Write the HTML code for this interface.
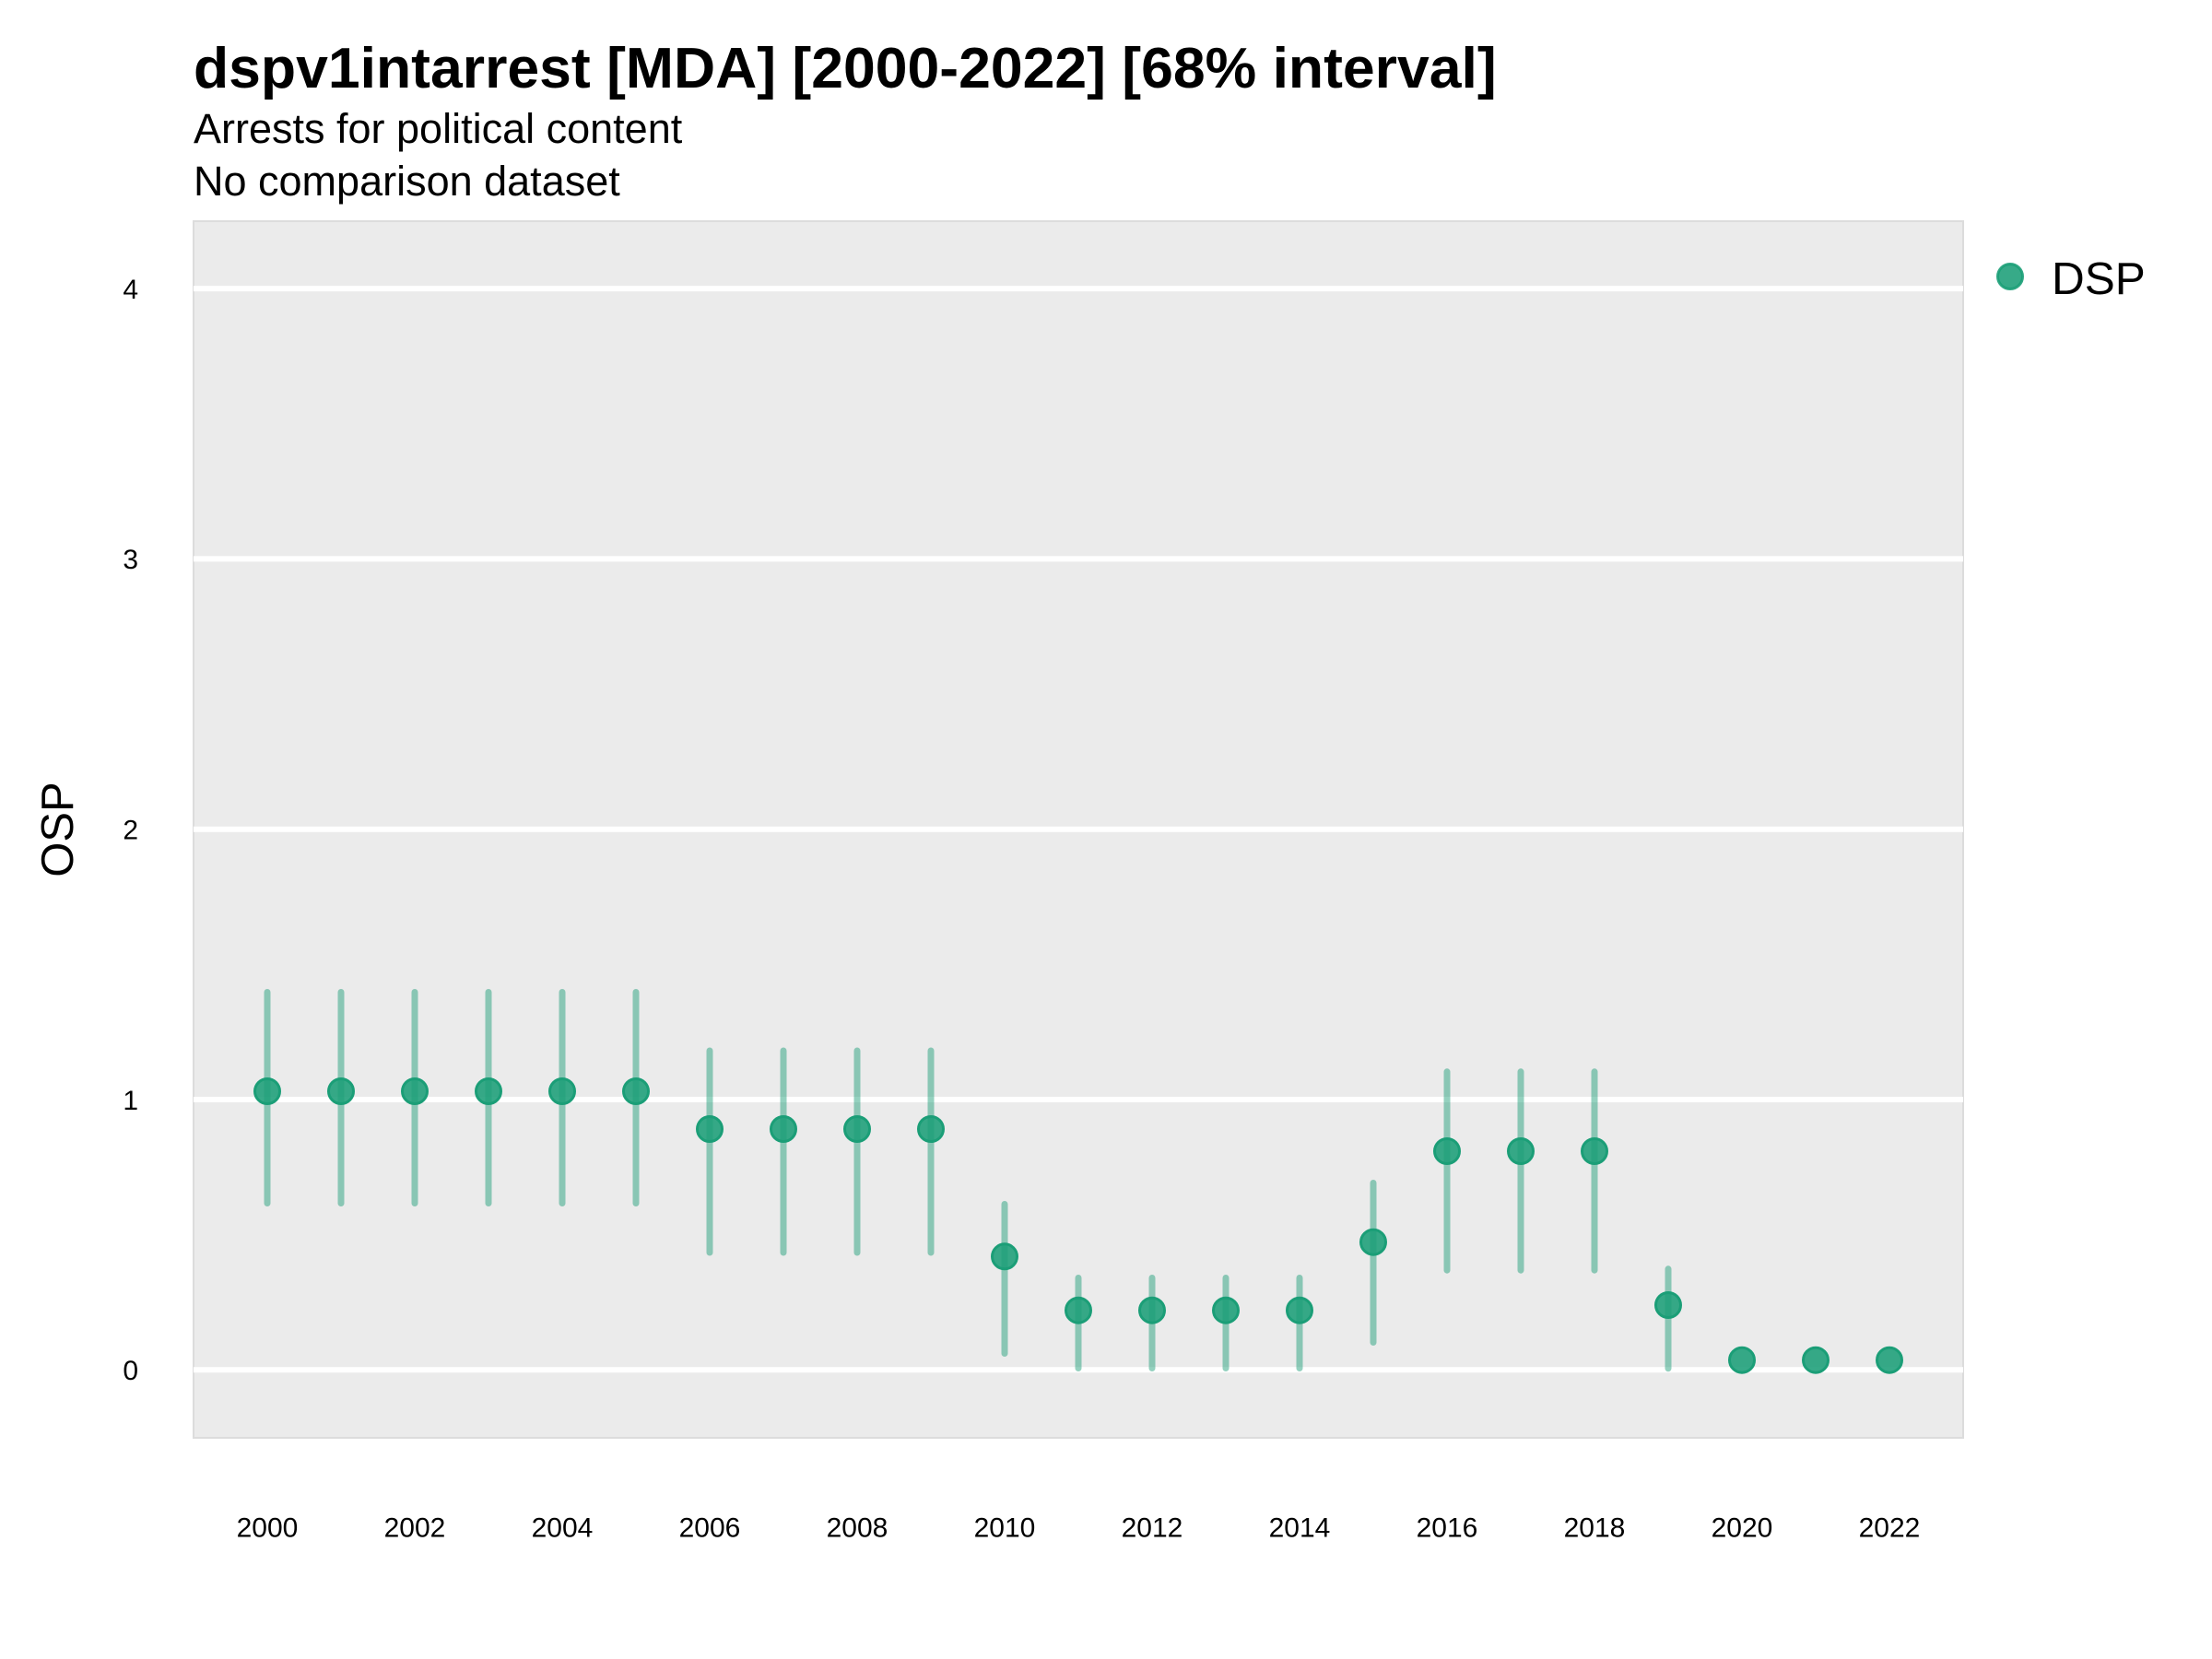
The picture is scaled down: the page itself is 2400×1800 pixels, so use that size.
<!DOCTYPE html>
<html>
<head>
<meta charset="utf-8">
<style>
html,body{margin:0;padding:0;background:#ffffff;}
svg{display:block;}
text{font-family:"Liberation Sans", Arial, Helvetica, sans-serif;fill:#000;}
</style>
</head>
<body>
<svg width="2400" height="1800" viewBox="0 0 2400 1800" xmlns="http://www.w3.org/2000/svg">
<rect x="0" y="0" width="2400" height="1800" fill="#ffffff"/>

<!-- Titles -->
<text x="210" y="95" font-size="62.5" font-weight="bold">dspv1intarrest [MDA] [2000-2022] [68% interval]</text>
<text x="210" y="155" font-size="45">Arrests for political content</text>
<text x="210" y="212" font-size="45">No comparison dataset</text>

<!-- Panel -->
<rect x="210" y="240" width="1920" height="1320" fill="#ebebeb" stroke="#dcdcdc" stroke-width="2"/>

<!-- Gridlines -->
<g stroke="#ffffff" stroke-width="6">
<line x1="210" x2="2130" y1="313.1" y2="313.1"/>
<line x1="210" x2="2130" y1="606.4" y2="606.4"/>
<line x1="210" x2="2130" y1="899.7" y2="899.7"/>
<line x1="210" x2="2130" y1="1193" y2="1193"/>
<line x1="210" x2="2130" y1="1486.3" y2="1486.3"/>
</g>

<!-- Y tick labels -->
<g font-size="30" text-anchor="end">
<text x="150" y="324">4</text>
<text x="150" y="617">3</text>
<text x="150" y="910.5">2</text>
<text x="150" y="1204">1</text>
<text x="150" y="1497">0</text>
</g>

<!-- Y axis title -->
<text x="79" y="900" font-size="49" text-anchor="middle" transform="rotate(-90 79 900)">OSP</text>

<!-- X tick labels -->
<g font-size="30" text-anchor="middle">
<text x="290" y="1667.5">2000</text>
<text x="450" y="1667.5">2002</text>
<text x="610" y="1667.5">2004</text>
<text x="770" y="1667.5">2006</text>
<text x="930" y="1667.5">2008</text>
<text x="1090" y="1667.5">2010</text>
<text x="1250" y="1667.5">2012</text>
<text x="1410" y="1667.5">2014</text>
<text x="1570" y="1667.5">2016</text>
<text x="1730" y="1667.5">2018</text>
<text x="1890" y="1667.5">2020</text>
<text x="2050" y="1667.5">2022</text>
</g>

<!-- Error bars -->
<g stroke="#1b9e77" stroke-opacity="0.47" stroke-width="7" stroke-linecap="round">
<line x1="290" x2="290" y1="1076.5" y2="1305.5"/>
<line x1="370" x2="370" y1="1076.5" y2="1305.5"/>
<line x1="450" x2="450" y1="1076.5" y2="1305.5"/>
<line x1="530" x2="530" y1="1076.5" y2="1305.5"/>
<line x1="610" x2="610" y1="1076.5" y2="1305.5"/>
<line x1="690" x2="690" y1="1076.5" y2="1305.5"/>
<line x1="770" x2="770" y1="1140" y2="1359"/>
<line x1="850" x2="850" y1="1140" y2="1359"/>
<line x1="930" x2="930" y1="1140" y2="1359"/>
<line x1="1010" x2="1010" y1="1140" y2="1359"/>
<line x1="1090" x2="1090" y1="1306.5" y2="1468.5"/>
<line x1="1170" x2="1170" y1="1386.5" y2="1484.5"/>
<line x1="1250" x2="1250" y1="1386.5" y2="1484.5"/>
<line x1="1330" x2="1330" y1="1386.5" y2="1484.5"/>
<line x1="1410" x2="1410" y1="1386.5" y2="1484.5"/>
<line x1="1490" x2="1490" y1="1283.5" y2="1456.5"/>
<line x1="1570" x2="1570" y1="1162.8" y2="1378.2"/>
<line x1="1650" x2="1650" y1="1162.8" y2="1378.2"/>
<line x1="1730" x2="1730" y1="1162.8" y2="1378.2"/>
<line x1="1810" x2="1810" y1="1376.8" y2="1484.8"/>
</g>

<!-- Points -->
<g fill="#1b9e77" fill-opacity="0.88" stroke="#1b9e77" stroke-width="3">
<circle cx="290" cy="1184" r="13.5"/>
<circle cx="370" cy="1184" r="13.5"/>
<circle cx="450" cy="1184" r="13.5"/>
<circle cx="530" cy="1184" r="13.5"/>
<circle cx="610" cy="1184" r="13.5"/>
<circle cx="690" cy="1184" r="13.5"/>
<circle cx="770" cy="1225" r="13.5"/>
<circle cx="850" cy="1225" r="13.5"/>
<circle cx="930" cy="1225" r="13.5"/>
<circle cx="1010" cy="1225" r="13.5"/>
<circle cx="1090" cy="1363.3" r="13.5"/>
<circle cx="1170" cy="1421.7" r="13.5"/>
<circle cx="1250" cy="1421.7" r="13.5"/>
<circle cx="1330" cy="1421.7" r="13.5"/>
<circle cx="1410" cy="1421.7" r="13.5"/>
<circle cx="1490" cy="1347.7" r="13.5"/>
<circle cx="1570" cy="1249" r="13.5"/>
<circle cx="1650" cy="1249" r="13.5"/>
<circle cx="1730" cy="1249" r="13.5"/>
<circle cx="1810" cy="1416" r="13.5"/>
<circle cx="1890" cy="1475.7" r="13.5"/>
<circle cx="1970" cy="1475.7" r="13.5"/>
<circle cx="2050" cy="1475.7" r="13.5"/>
</g>

<!-- Legend -->
<circle cx="2181" cy="300" r="13.5" fill="#1b9e77" fill-opacity="0.88" stroke="#1b9e77" stroke-opacity="0.9" stroke-width="3"/>
<text x="2226" y="319" font-size="49.5">DSP</text>
</svg>
</body>
</html>
